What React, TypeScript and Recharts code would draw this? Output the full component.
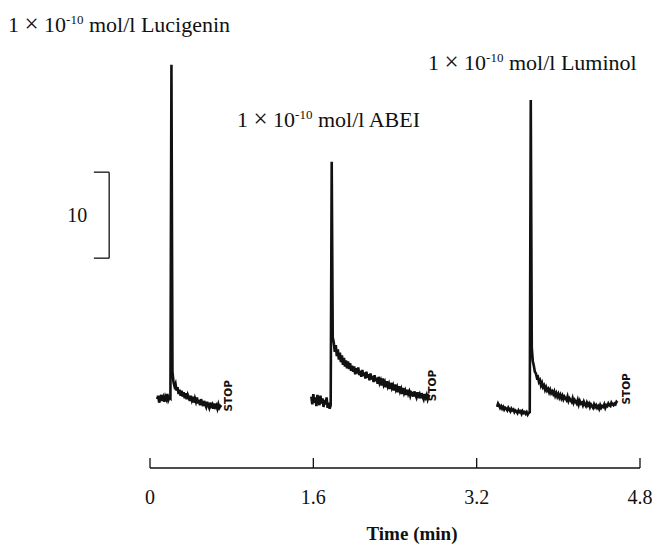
import {
  LineChart,
  Line,
  XAxis,
  YAxis,
  ReferenceLine,
  ReferenceDot,
} from "recharts";

// recorder sampling interval (min)
const SAMPLE_STEP = 0.01;

const lucigeninStart = 0.07;
const lucigeninSignal = [
  8.0, 8.4, 7.6, 8.1, 8.5, 7.8, 8.2, 7.7, 8.3, 8.0, 8.6, 7.9, 8.2, 8.1,
  46.9,
  11.2, 10.0, 9.5, 9.8, 9.0, 9.4, 8.6, 9.1, 8.4, 9.0, 8.3, 8.8, 8.1, 8.7, 8.0,
  8.5, 8.2, 7.8, 8.4, 7.9, 8.3, 7.6, 8.1, 7.7, 8.2, 7.5, 7.9, 7.3, 8.0, 7.6,
  7.2, 7.8, 7.4, 7.1, 7.7, 7.3, 7.0, 7.6, 7.2, 7.4, 6.9, 7.5, 7.1, 7.3, 6.9,
  7.4, 7.0, 7.2, 7.1,
];

const abeiStart = 1.58;
const abeiSignal = [
  8.3, 7.4, 8.6, 7.6, 8.2, 7.2, 8.5, 7.8, 7.3, 8.4, 7.5, 8.1, 7.1, 7.9, 7.4,
  8.2, 7.0, 7.6, 6.9, 7.3,
  35.6,
  15.2, 14.6, 13.5, 14.3, 13.0, 13.8, 12.6, 13.4, 12.3, 13.1,
  12.0, 12.8, 11.8, 12.5, 11.6, 12.4, 11.5, 12.2, 11.3, 11.9,
  11.2, 11.8, 10.9, 11.6, 11.0, 11.7, 10.8, 11.3, 10.6, 11.4,
  10.7, 11.1, 10.4, 11.2, 10.5, 10.9, 10.2, 11.0, 10.3, 10.7,
  10.0, 10.8, 10.1, 10.5, 9.8, 10.6, 9.9, 10.2, 9.6, 10.4,
  9.7, 10.0, 9.4, 10.1, 9.5, 9.8, 9.2, 9.9, 9.3, 9.6,
  9.0, 9.7, 9.1, 9.4, 8.8, 9.5, 8.9, 9.2, 8.6, 9.3,
  8.7, 9.0, 8.5, 9.1, 8.6, 8.9, 8.4, 8.8, 8.7,
  8.3, 8.9, 8.5, 8.2, 8.8, 8.4, 8.6, 8.1, 8.7, 8.3, 8.0, 8.6, 8.2, 8.5, 8.0,
  8.4, 8.3,
];

const luminolStart = 3.4;
const luminolSignal = [
  7.1, 7.5, 7.3, 7.0, 7.2, 6.9, 7.1, 6.8, 7.0, 6.9,
  6.7, 7.0, 6.8, 6.6, 6.9, 6.7, 6.8, 6.5, 6.7, 6.6,
  6.4, 6.7, 6.5, 6.6, 6.3, 6.6, 6.4, 6.5, 6.3, 6.5,
  6.2, 6.4, 6.5,
  42.8,
  14.0, 12.4, 11.9, 11.2, 11.0, 10.5, 10.6, 10.0, 10.2, 9.6,
  9.9, 9.4, 9.6, 9.1, 9.4, 9.0, 9.2, 8.8, 9.1, 8.7,
  8.9, 8.6, 8.9, 8.4, 8.7, 8.3, 8.6, 8.2, 8.5, 8.1,
  8.4, 8.0, 8.3, 8.1, 7.9, 8.3, 7.8, 8.1, 7.9, 7.7,
  8.1, 7.6, 7.9, 7.7, 7.5, 7.9, 7.4, 7.8, 7.5, 7.6,
  7.3, 7.7, 7.4, 7.2, 7.6, 7.3, 7.5, 7.1, 7.4, 7.2,
  7.0, 7.4, 7.1, 7.3, 7.0, 7.2, 6.9, 7.3, 7.0, 7.2,
  7.1, 7.4, 7.0, 7.3, 7.2, 7.5, 7.3, 7.2, 7.6, 7.4, 7.3, 7.5, 7.4, 7.7, 7.6,
];

const timeTicks = [0, 1.6, 3.2, 4.8];
const stopTimes = [0.76, 2.76, 4.66];
const stopLevels = [8.4, 9.6, 9.2];

const SERIF = "'Liberation Serif', 'Times New Roman', serif";
const INK = "#111";

const toSeries = (start: number, values: number[]) =>
  values.map((v, i) => ({ t: +(start + i * SAMPLE_STEP).toFixed(3), signal: v }));

const lucigenin = toSeries(lucigeninStart, lucigeninSignal);
const abei = toSeries(abeiStart, abeiSignal);
const luminol = toSeries(luminolStart, luminolSignal);

const TimeTick = ({ x, y, payload }: any) => (
  <g>
    <line x1={x} x2={x} y1={y - 10} y2={y} stroke={INK} strokeWidth={1.3} />
    <text x={x} y={y + 36} textAnchor="middle" fontSize={20} fontFamily={SERIF} fill={INK}>
      {payload.value}
    </text>
  </g>
);

const StopMark = ({ cx, cy }: any) => (
  <text
    x={cx}
    y={cy}
    transform={`rotate(-90 ${cx} ${cy})`}
    textAnchor="middle"
    dominantBaseline="central"
    fontSize={10.5}
    fontWeight="bold"
    fontFamily="'DejaVu Sans', sans-serif"
    fill={INK}
  >
    STOP
  </text>
);

const Caption = ({ x, y, name }: { x: number; y: number; name: string }) => (
  <text x={x} y={y} fontFamily={SERIF} fontSize={22} fill={INK}>
    1 <tspan fontSize={25}>×</tspan> 10
    <tspan fontSize={13} dy={-8}>-10</tspan>
    <tspan dy={8}> mol/l {name}</tspan>
  </text>
);

export default function App() {
  const traces = [lucigenin, abei, luminol];
  return (
    <div style={{ position: "absolute", left: 0, top: 0, background: "#fff" }}>
      <LineChart
        width={652}
        height={551}
        margin={{ top: 38, right: 12, bottom: 3, left: 150 }}
      >
        <XAxis
          type="number"
          dataKey="t"
          domain={[0, 4.8]}
          ticks={timeTicks}
          interval={0}
          tickLine={false}
          tickSize={0}
          tickMargin={0}
          tick={<TimeTick />}
          height={80}
          axisLine={{ stroke: INK, strokeWidth: 1.3 }}
        />
        <YAxis hide type="number" domain={[0, 50]} allowDataOverflow />

        {traces.map((d, i) => (
          <Line
            key={i}
            data={d}
            dataKey="signal"
            type="linear"
            stroke={INK}
            strokeWidth={2.6}
            dot={false}
            isAnimationActive={false}
          />
        ))}

        {stopTimes.map((t, i) => (
          <ReferenceDot
            key={i}
            x={t}
            y={stopLevels[i]}
            r={0}
            ifOverflow="visible"
            shape={(p: any) => <StopMark cx={p.cx} cy={p.cy} />}
          />
        ))}

        {/* 10-unit scale bar */}
        <ReferenceLine
          segment={[{ x: -0.4, y: 34.4 }, { x: -0.4, y: 24.4 }]}
          ifOverflow="visible"
          stroke={INK}
          strokeWidth={1.3}
          label={{ value: "10", position: "left", offset: 22, fontSize: 20, fontFamily: SERIF, fill: INK }}
        />
        <ReferenceLine
          segment={[{ x: -0.55, y: 34.4 }, { x: -0.4, y: 34.4 }]}
          ifOverflow="visible"
          stroke={INK}
          strokeWidth={1.3}
        />
        <ReferenceLine
          segment={[{ x: -0.55, y: 24.4 }, { x: -0.4, y: 24.4 }]}
          ifOverflow="visible"
          stroke={INK}
          strokeWidth={1.3}
        />

        <Caption x={8} y={32} name="Lucigenin" />
        <Caption x={237} y={127} name="ABEI" />
        <Caption x={428} y={70} name="Luminol" />
        <text x={412} y={540} textAnchor="middle" fontSize={19} fontWeight="bold" fontFamily={SERIF} fill={INK}>
          Time (min)
        </text>
      </LineChart>
    </div>
  );
}
